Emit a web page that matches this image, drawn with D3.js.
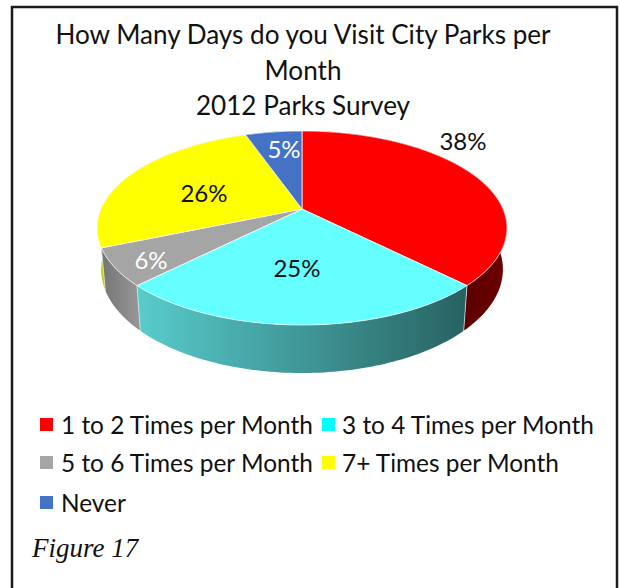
<!DOCTYPE html>
<html><head><meta charset="utf-8">
<script src="https://cdn.jsdelivr.net/npm/d3@7"></script>
<style>html,body{margin:0;background:#fff}svg{display:block}</style></head>
<body><svg id="c" width="620" height="588"></svg>
<script>
const categories=["1 to 2 Times per Month","3 to 4 Times per Month","5 to 6 Times per Month","7+ Times per Month","Never"];
const values=[37.5,25,6.2,25.9,5.4];
const labels=["38%","25%","6%","26%","5%"];
const topColors=["#ff0000","#66ffff","#a5a5a5","#ffff00","#4472c4"];
const legendColors=["#ff0000","#00ffff","#a5a5a5","#ffff00","#4472c4"];
const sideStops=[["#5c0000","#6e0000"],["#58cccc","#276262"],["#757575","#949494"],["#d6d600","#c8c800"],["#2a4a80","#2a4a80"]];
const labelColors=["#111","#111","#fff","#111","#fff"];
const titleLines=["How Many Days do you Visit City Parks per","Month","2012 Parks Survey"];
const labelPos=[[463,141],[297,268],[151,260],[204,193],[284,149]];
const legendRows=[[[0,40,61],[1,322,342]],[[2,40,61],[3,322,342]],[[4,40,61]]];
const legendY=[425,463,503];

const svg=d3.select("#c");
const font="Lato,'Noto Sans',sans-serif";
svg.append("rect").attr("x",12).attr("y",7).attr("width",605).attr("height",600).attr("fill","#fff").attr("stroke","#1a1a1a").attr("stroke-width",2.5);

const cx=302,c=-0.196;
const topP={A:201,y0:209,b:52.3},botP={A:197,y0:249,b:50.9};
const project=(a,p)=>{const u=Math.sin(a),v=-Math.cos(a),w=1+c*v;return[cx+p.A*u/w,(p.y0+p.b*v)/w];};
const arcs=d3.pie().sort(null).value(d=>d)(values);
const rim=(d,p)=>{const n=Math.max(2,Math.ceil((d.endAngle-d.startAngle)/0.02));
  return d3.range(n+1).map(i=>project(d.startAngle+(d.endAngle-d.startAngle)*i/n,p));};
const line=d3.line();
const defs=svg.append("defs");
arcs.forEach((d,i)=>{
  const pts=rim(d,topP).filter(q=>q[1]>200);
  const xs=pts.length?d3.extent(pts,q=>q[0]):[0,1];
  const g=defs.append("linearGradient").attr("id","s"+i).attr("gradientUnits","userSpaceOnUse")
    .attr("x1",xs[0]).attr("x2",xs[1]).attr("y1",0).attr("y2",0);
  g.append("stop").attr("offset",0).attr("stop-color",sideStops[i][0]);
  g.append("stop").attr("offset",1).attr("stop-color",sideStops[i][1]);
});
[4,0,3,2,1].forEach(i=>{const d=arcs[i];
  svg.append("path").attr("d",line(rim(d,topP).concat(rim(d,botP).reverse()))+"Z").attr("fill",`url(#s${i})`);
});
[0,1,2].forEach(i=>{const a=arcs[i].endAngle;
  svg.append("path").attr("d",line([project(a,topP),project(a,botP)])).attr("stroke","#dee").attr("stroke-opacity",.7).attr("stroke-width",1).attr("fill","none");});
const apex=[cx,topP.y0];
arcs.forEach((d,i)=>{
  svg.append("path").attr("d",line([apex].concat(rim(d,topP)))+"Z").attr("fill",topColors[i]).attr("stroke","#fff").attr("stroke-opacity",.7).attr("stroke-width",1).attr("stroke-linejoin","round");
});
svg.append("g").selectAll("text").data(titleLines).join("text")
  .attr("x",303).attr("y",(d,i)=>[44,80,115][i]).attr("text-anchor","middle")
  .attr("font-family",font).attr("font-size",26.1).attr("fill","#111").text(d=>d);
svg.append("g").selectAll("text").data(labels).join("text")
  .attr("x",(d,i)=>labelPos[i][0]).attr("y",(d,i)=>labelPos[i][1]+8.5).attr("text-anchor","middle")
  .attr("font-family",font).attr("font-size",24).attr("fill",(d,i)=>labelColors[i]).text(d=>d);
legendRows.forEach((r,ri)=>r.forEach(([k,bx,tx])=>{
  svg.append("rect").attr("x",bx).attr("y",legendY[ri]-7).attr("width",13).attr("height",13).attr("fill",legendColors[k]);
  svg.append("text").attr("x",tx).attr("y",legendY[ri]+8.5).attr("font-family",font).attr("font-size",24.4).attr("fill","#111").text(categories[k]);
}));
svg.append("text").attr("x",32).attr("y",557).attr("font-family","'Liberation Serif',serif").attr("font-style","italic").attr("font-size",27).attr("fill","#111").text("Figure 17");
</script></body></html>
